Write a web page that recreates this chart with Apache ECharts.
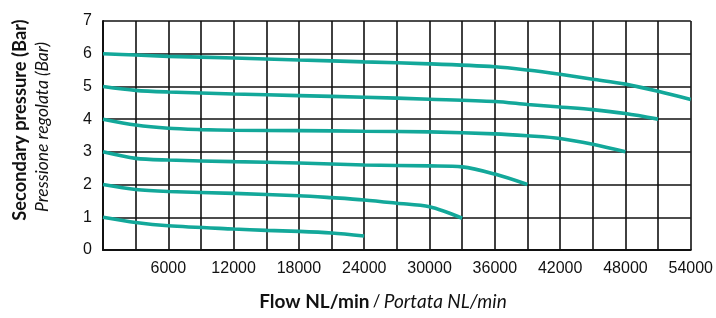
<!DOCTYPE html>
<html>
<head>
<meta charset="utf-8">
<script src="https://cdn.jsdelivr.net/npm/echarts@6/dist/echarts.min.js"></script>
<style>
  html, body { margin: 0; padding: 0; background: #fff; }
  #chart { width: 716px; height: 318px; }
</style>
</head>
<body>
<div id="chart"></div>
<script>
// flow values (NL/min) and secondary pressure (Bar) per curve
var flow6 = [0, 3000, 6000, 12000, 18000, 24000, 30000, 36000, 39000, 42000, 45000, 48000, 51000, 54000];
var bar6  = [6.0, 5.96, 5.92, 5.87, 5.81, 5.75, 5.69, 5.6, 5.5, 5.37, 5.22, 5.07, 4.85, 4.6];

var flow5 = [0, 3000, 6000, 12000, 18000, 24000, 30000, 36000, 39000, 42000, 45000, 48000, 51000];
var bar5  = [5.0, 4.88, 4.83, 4.77, 4.72, 4.67, 4.61, 4.54, 4.45, 4.37, 4.29, 4.17, 4.0];

var flow4 = [0, 3000, 6000, 9000, 12000, 18000, 24000, 30000, 36000, 39000, 42000, 45000, 48000];
var bar4  = [4.0, 3.82, 3.72, 3.68, 3.66, 3.65, 3.63, 3.61, 3.55, 3.49, 3.41, 3.23, 3.0];

var flow3 = [0, 3000, 6000, 12000, 18000, 24000, 30000, 33000, 36000, 39000];
var bar3  = [3.0, 2.8, 2.75, 2.7, 2.66, 2.6, 2.57, 2.54, 2.32, 2.0];

var flow2 = [0, 3000, 6000, 12000, 18000, 21000, 24000, 27000, 30000, 33000];
var bar2  = [2.0, 1.85, 1.79, 1.73, 1.66, 1.6, 1.53, 1.43, 1.32, 0.97];

var flow1 = [0, 3000, 6000, 12000, 15000, 18000, 21000, 24000];
var bar1  = [1.0, 0.84, 0.74, 0.64, 0.6, 0.57, 0.52, 0.43];

var xTicks = [6000, 12000, 18000, 24000, 30000, 36000, 42000, 48000, 54000];
var yTicks = [0, 1, 2, 3, 4, 5, 6, 7];

var curves = [[flow6, bar6], [flow5, bar5], [flow4, bar4], [flow3, bar3], [flow2, bar2], [flow1, bar1]];

var chart = echarts.init(document.getElementById('chart'));
var seriesData = [];
for (var i = 0; i < curves.length; i++) {
  var pts = [];
  for (var k = 0; k < curves[i][0].length; k++) {
    pts.push([curves[i][0][k], curves[i][1][k]]);
  }
  seriesData.push({
    type: 'line',
    data: pts,
    smooth: 0.3,
    showSymbol: false,
    lineStyle: { color: '#13a89a', width: 3.6 },
    z: 5
  });
}

var option = {
  animation: false,
  grid: { left: 103, right: 24, top: 21, bottom: 68 },
  xAxis: {
    type: 'value',
    min: 0, max: 54000, interval: 3000,
    axisLine: { lineStyle: { color: '#111', width: 2 } },
    axisTick: { show: false },
    splitLine: { lineStyle: { color: '#111', width: 1.6 } },
    axisLabel: {
      margin: 11,
      color: '#111',
      fontFamily: 'Liberation Sans, Arial',
      fontSize: 16,
      showMinLabel: true, showMaxLabel: true,
      formatter: function (v) { return xTicks.indexOf(v) >= 0 ? String(v) : ''; }
    }
  },
  yAxis: {
    type: 'value',
    min: 0, max: 7, interval: 1,
    axisLine: { show: true, lineStyle: { color: '#111', width: 2 } },
    axisTick: { show: false },
    splitLine: { lineStyle: { color: '#111', width: 1.6 } },
    axisLabel: {
      margin: 11,
      color: '#111',
      fontFamily: 'Liberation Sans, Arial',
      fontSize: 16,
      formatter: function (v) { return yTicks.indexOf(v) >= 0 ? String(v) : ''; }
    }
  },
  graphic: [
    {
      type: 'text', x: 20, y: 120, rotation: Math.PI / 2,
      style: { text: 'Secondary pressure (Bar)', fontFamily: 'Lato', fontWeight: 'bold', fontSize: 18.3,
               fill: '#111', align: 'center', verticalAlign: 'middle' }
    },
    {
      type: 'text', x: 42, y: 127, rotation: Math.PI / 2,
      style: { text: 'Pressione regolata (Bar)', fontFamily: 'Lato', fontStyle: 'italic', fontSize: 17.5,
               fill: '#111', align: 'center', verticalAlign: 'middle' }
    },
    {
      type: 'text', x: 383, y: 302,
      style: {
        text: '{b|Flow NL/min} {s|/} {i|Portata NL/min}',
        align: 'center', verticalAlign: 'middle',
        rich: {
          b: { fontFamily: 'Lato', fontWeight: 'bold', fontSize: 19, fill: '#111' },
          s: { fontFamily: 'Lato', fontSize: 17, fill: '#111' },
          i: { fontFamily: 'Lato', fontStyle: 'italic', fontSize: 19, fill: '#111' }
        }
      }
    }
  ],
  series: seriesData
};
chart.setOption(option);
</script>
</body>
</html>
